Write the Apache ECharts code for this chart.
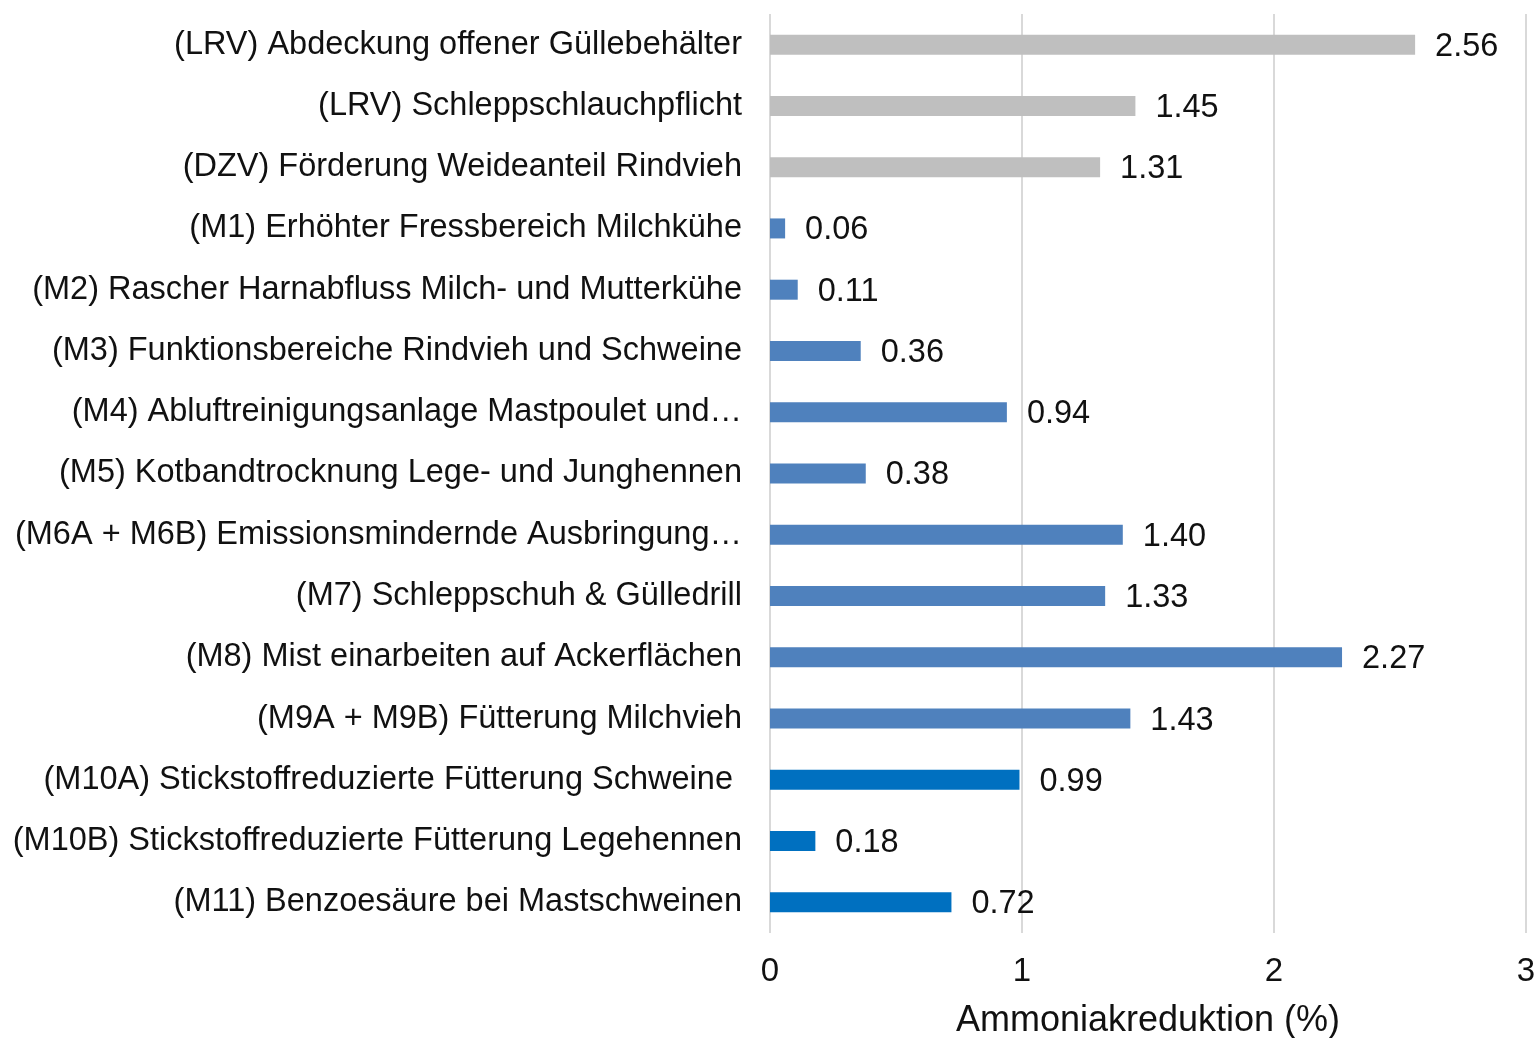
<!DOCTYPE html>
<html>
<head>
<meta charset="utf-8">
<title>Ammoniakreduktion</title>
<script src="https://cdn.jsdelivr.net/npm/echarts@6/dist/echarts.min.js"></script>
<style>
  html, body { margin: 0; padding: 0; background: #fff; }
  #chart { width: 1538px; height: 1038px; }
</style>
</head>
<body>
<div id="chart"></div>
<script>
// Massnahmen (von oben nach unten)
var categories = [
  "(LRV) Abdeckung offener Güllebehälter",
  "(LRV) Schleppschlauchpflicht",
  "(DZV) Förderung Weideanteil Rindvieh",
  "(M1) Erhöhter Fressbereich Milchkühe",
  "(M2) Rascher Harnabfluss Milch- und Mutterkühe",
  "(M3) Funktionsbereiche Rindvieh und Schweine",
  "(M4) Abluftreinigungsanlage Mastpoulet und…",
  "(M5) Kotbandtrocknung Lege- und Junghennen",
  "(M6A + M6B) Emissionsmindernde Ausbringung…",
  "(M7) Schleppschuh & Gülledrill",
  "(M8) Mist einarbeiten auf Ackerflächen",
  "(M9A + M9B) Fütterung Milchvieh",
  "(M10A) Stickstoffreduzierte Fütterung Schweine ",
  "(M10B) Stickstoffreduzierte Fütterung Legehennen",
  "(M11) Benzoesäure bei Mastschweinen"
];
var reduction = [2.56, 1.45, 1.31, 0.06, 0.11, 0.36, 0.94, 0.38, 1.40, 1.33, 2.27, 1.43, 0.99, 0.18, 0.72];
var groups = ["LRV", "LRV", "LRV", "M", "M", "M", "M", "M", "M", "M", "M", "M", "M10", "M10", "M10"];
var xTicks = [0, 1, 2, 3];

var groupColor = { LRV: "#BFBFBF", M: "#4F81BD", M10: "#0070C0" };
var fontFam = "'Liberation Sans', Arial, sans-serif";

var myChart = echarts.init(document.getElementById("chart"));
var option = {
  backgroundColor: "#fff",
  animation: false,
  grid: { left: 770, right: 12, top: 14, bottom: 105, containLabel: false, outerBoundsMode: "none" },
  xAxis: {
    type: "value",
    min: xTicks[0],
    max: xTicks[xTicks.length - 1],
    interval: 1,
    name: "Ammoniakreduktion (%)",
    nameLocation: "middle",
    nameGap: 70,
    nameTextStyle: { color: "#111", fontSize: 36, fontFamily: fontFam },
    axisLine: { show: false },
    axisTick: { show: false },
    axisLabel: { color: "#111", fontSize: 33, fontFamily: fontFam, margin: 22 },
    splitLine: { show: true, lineStyle: { color: "#D9D9D9", width: 2 } }
  },
  yAxis: {
    type: "category",
    inverse: true,
    data: categories,
    axisLine: { show: false },
    axisTick: { show: false },
    axisLabel: { color: "#111", fontSize: 32.5, fontFamily: fontFam, margin: 28 }
  },
  series: [{
    type: "bar",
    barWidth: 20,
    data: reduction.map(function (v, i) {
      return { value: v, itemStyle: { color: groupColor[groups[i]] } };
    }),
    label: {
      show: true,
      position: "right",
      distance: 20,
      offset: [0, 2],
      color: "#111",
      fontSize: 32.5,
      fontFamily: fontFam,
      formatter: function (p) { return p.value.toFixed(2); }
    }
  }]
};
myChart.setOption(option);
</script>
</body>
</html>
